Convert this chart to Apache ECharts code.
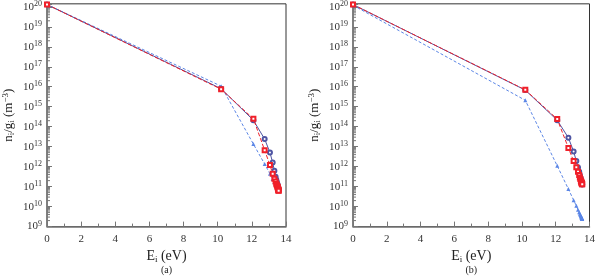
<!DOCTYPE html>
<html><head><meta charset="utf-8">
<script src="https://cdn.jsdelivr.net/npm/echarts@6/dist/echarts.min.js"></script>
<style>html,body{margin:0;padding:0;background:#fff}#c{width:598px;height:280px}</style>
</head><body><div id="c"></div>
<script>
// Level energies (eV), hydrogen-like levels n = 1..20
const energies = [0, 10.2, 12.09, 12.75, 13.06, 13.22, 13.32, 13.39, 13.43, 13.46, 13.49, 13.51, 13.52, 13.53, 13.54, 13.55, 13.55, 13.56, 13.56, 13.57];

// Panel (a)
const aCircles = [1.3e20, 8e15, 2.1e14, 2.4e13, 5.1e12, 1.6e12, 6.3e11, 3.1e11, 2.2e11, 1.7e11, 1.4e11, 1.2e11, 1.05e11, 9.5e10, 8.8e10, 8.2e10, 7.7e10, 7.3e10, 7.0e10, 6.7e10];
const aSquares = [1.3e20, 7.5e15, 2.5e14, 6.6e12, 1.2e12, 4.4e11, 2.5e11, 1.8e11, 1.4e11, 1.2e11, 1.05e11, 9.5e10, 8.7e10, 8.1e10, 7.6e10, 7.2e10, 6.9e10, 6.6e10, 6.4e10, 6.2e10];
const aTriangles = [1.3e20, 1.07e16, 1.35e13, 1.35e12, 4.4e11, 2.4e11, 1.7e11, 1.35e11, 1.15e11, 1.0e11, 9.2e10, 8.5e10, 8.0e10, 7.6e10, 7.3e10, 7.0e10, 6.8e10, 6.6e10, 6.4e10, 6.3e10];

// Panel (b)
const bCircles = [1.3e20, 6.8e15, 2.1e14, 2.8e13, 5.8e12, 1.9e12, 9e11, 5.5e11, 3.8e11, 2.9e11, 2.4e11, 2.0e11, 1.8e11, 1.65e11, 1.55e11, 1.47e11, 1.4e11, 1.35e11, 1.31e11, 1.28e11];
const bSquares = [1.3e20, 7e15, 2.4e14, 8.7e12, 1.9e12, 9.3e11, 5.5e11, 3.8e11, 2.9e11, 2.4e11, 2.0e11, 1.8e11, 1.65e11, 1.55e11, 1.47e11, 1.42e11, 1.38e11, 1.35e11, 1.32e11, 1.3e11];
const bTriangles = [1.2e20, 2.1e15, 1.1e12, 7.6e10, 2.1e10, 1.1e10, 7e9, 5.3e9, 4.4e9, 3.8e9, 3.4e9, 3.1e9, 2.9e9, 2.8e9, 2.7e9, 2.6e9, 2.55e9, 2.5e9, 2.45e9, 2.4e9];

const panelLabels = ['(a)', '(b)'];
const xTickLabels = [0, 2, 4, 6, 8, 10, 12, 14];
const yDecades = [9, 10, 11, 12, 13, 14, 15, 16, 17, 18, 19, 20];

const FONT = "'Liberation Serif','Times New Roman',serif";
const AX = '#777';

// minor log ticks (2..9 x 10^k)
const minorTicks = [];
for (let i = 0; i < yDecades.length - 1; i++) {
  for (let m = 2; m <= 9; m++) minorTicks.push([0, m * Math.pow(10, yDecades[i])]);
}

function pairs(ys) { return energies.map((e, i) => [e, ys[i]]); }

function xAxisFor(idx) {
  return {
    type: 'value', gridIndex: idx, min: xTickLabels[0], max: xTickLabels[xTickLabels.length - 1], interval: 2,
    axisLine: { show: true, onZero: false, lineStyle: { color: AX, width: 1.5 } },
    axisTick: { show: true, inside: true, length: 5, lineStyle: { color: AX } },
    minorTick: { show: true, splitNumber: 2, length: 3, lineStyle: { color: AX } },
    splitLine: { show: false },
    axisLabel: { fontFamily: FONT, fontSize: 11, color: '#333', margin: 7 },
    name: '{e|E}{sub|i}{e| (eV)}\n{p|' + panelLabels[idx] + '}',
    nameLocation: 'middle', nameGap: 17,
    nameTextStyle: {
      fontFamily: FONT, color: '#222',
      rich: {
        e: { fontFamily: FONT, fontSize: 14, color: '#222', lineHeight: 15 },
        sub: { fontFamily: FONT, fontSize: 9, color: '#222', lineHeight: 15, verticalAlign: 'bottom', padding: [5, 0, 0, 0] },
        p: { fontFamily: FONT, fontSize: 10, color: '#222', lineHeight: 12 }
      }
    }
  };
}

function yAxisFor(idx) {
  return {
    type: 'log', logBase: 10, gridIndex: idx,
    min: Math.pow(10, yDecades[0]), max: Math.pow(10, 20.15), interval: 1,
    axisLine: { show: true, lineStyle: { color: AX, width: 1.5 } },
    axisTick: { show: true, inside: true, length: 5, lineStyle: { color: AX } },
    splitLine: { show: false },
    axisLabel: {
      margin: 5,
      formatter: function (v) {
        const l = Math.log10(v);
        const k = Math.round(l);
        if (Math.abs(l - k) > 0.01) return '';
        return '{b|10}{s|' + k + '}';
      },
      rich: {
        b: { fontFamily: FONT, fontSize: 11, color: '#333', lineHeight: 14 },
        s: { fontFamily: FONT, fontSize: 8, color: '#333', lineHeight: 14, verticalAlign: 'top', padding: [0, 0, 6, 0] }
      }
    },
    name: '{t|n}{sub|i}{t|/g}{sub|i}{t| (m}{sup|−3}{t|)}',
    nameLocation: 'middle', nameGap: 30,
    nameTextStyle: {
      rich: {
        t: { fontFamily: FONT, fontSize: 13, color: '#222', lineHeight: 16 },
        sub: { fontFamily: FONT, fontSize: 9, color: '#222', lineHeight: 16, padding: [5, 0, 0, 0] },
        sup: { fontFamily: FONT, fontSize: 9, color: '#222', lineHeight: 16, padding: [0, 0, 7, 0] }
      }
    }
  };
}

function seriesFor(idx, circles, squares, triangles) {
  return [
    {
      type: 'custom', xAxisIndex: idx, yAxisIndex: idx, silent: true, data: minorTicks, clip: false, z: 1,
      renderItem: function (params, api) {
        const p = api.coord([api.value(0), api.value(1)]);
        return { type: 'line', shape: { x1: p[0], y1: p[1], x2: p[0] + 3, y2: p[1] }, style: { stroke: AX, lineWidth: 1 } };
      }
    },
    {
      type: 'line', xAxisIndex: idx, yAxisIndex: idx, data: pairs(triangles), clip: false,
      symbol: 'triangle', symbolSize: 4, z: 3,
      lineStyle: { color: '#5b86e6', width: 1, type: [3, 2] },
      itemStyle: { color: '#5b86e6' }
    },
    {
      type: 'line', xAxisIndex: idx, yAxisIndex: idx, data: pairs(circles), clip: false,
      symbol: 'emptyCircle', symbolSize: 4, z: 4,
      lineStyle: { color: '#4f55a3', width: 1 },
      itemStyle: { color: '#4f55a3', borderWidth: 0.8 }
    },
    {
      type: 'line', xAxisIndex: idx, yAxisIndex: idx, data: pairs(squares), clip: false,
      symbol: 'emptyRect', symbolSize: 4, z: 5,
      lineStyle: { color: '#f0202a', width: 1, type: [4, 2] },
      itemStyle: { color: '#f0202a', borderWidth: 0.8 }
    }
  ];
}

const chart = echarts.init(document.getElementById('c'), null, { renderer: 'canvas' });
chart.setOption({
  animation: false,
  backgroundColor: '#fff',
  grid: [
    { left: 47, top: 1, width: 239, height: 238, show: true, borderColor: '#333', borderWidth: 1 },
    { left: 353, top: 1, width: 238, height: 238, show: true, borderColor: '#333', borderWidth: 1 }
  ],
  xAxis: [xAxisFor(0), xAxisFor(1)],
  yAxis: [yAxisFor(0), yAxisFor(1)],
  series: [].concat(seriesFor(0, aCircles, aSquares, aTriangles), seriesFor(1, bCircles, bSquares, bTriangles))
});
</script>
</body></html>
